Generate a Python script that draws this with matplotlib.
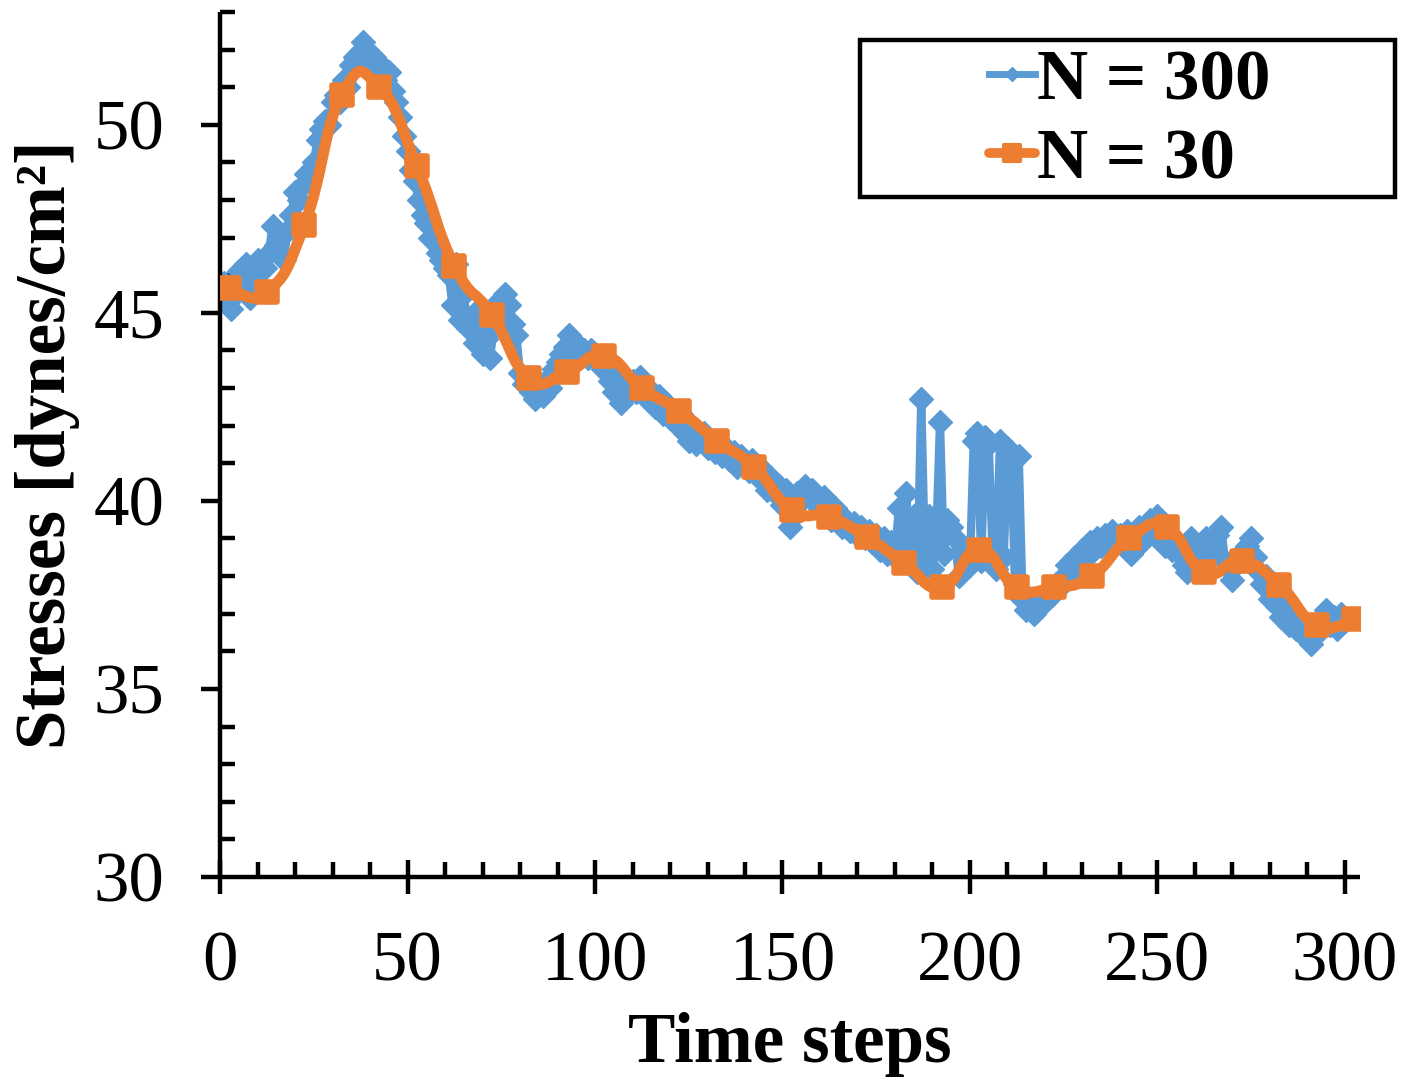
import matplotlib.pyplot as plt
from matplotlib.path import Path
from matplotlib.patches import PathPatch, Rectangle
from matplotlib.lines import Line2D
from matplotlib.markers import MarkerStyle
import numpy as np

plt.rcParams['font.family'] = ['Liberation Serif', 'DejaVu Serif']

# N = 300 series (one value per time step)
steps_300 = np.arange(1, 301)
stress_300 = [
    45.8, 45.3, 45.1, 45.6, 46.1, 45.7, 46.3, 45.4, 46.0, 46.4,
    45.6, 46.2, 46.6, 47.3, 46.8, 47.0, 46.4, 47.2, 47.6, 48.2,
    48.0, 48.4, 48.7, 48.5, 49.0, 49.6, 49.9, 50.1, 50.0, 50.6,
    50.8, 50.6, 51.2, 51.0, 51.6, 51.8, 51.9, 52.2, 52.0, 51.6,
    51.8, 51.4, 51.6, 51.2, 51.4, 50.9, 50.6, 50.2, 49.7, 49.3,
    48.8, 48.5, 48.0, 47.6, 47.4, 47.0, 46.9, 46.6, 46.4, 46.2,
    46.0, 45.2, 46.3, 44.8, 45.5, 44.6, 44.9, 44.2, 45.1, 43.9,
    44.3, 43.8, 44.6, 45.3, 44.9, 45.5, 45.2, 44.7, 44.4, 43.4,
    43.1, 43.3, 42.9, 42.7, 43.0, 42.8, 43.2, 43.0, 43.5, 43.7,
    43.9, 44.1, 44.4, 44.2, 43.9, 44.1, 44.0, 43.8, 44.0, 43.9,
    43.7, 43.5, 43.8, 43.2, 42.9, 43.3, 42.6, 42.8, 43.1, 43.2,
    42.9, 43.3, 42.8, 43.0, 42.7, 42.5, 42.8, 42.3, 42.6, 42.2,
    42.4, 42.0, 42.3, 41.8, 41.6, 41.9, 41.5, 41.7, 41.8, 41.4,
    41.6, 41.3, 41.5, 41.2, 41.4, 41.1, 41.3, 40.9, 41.2, 41.0,
    40.8, 41.1, 40.7, 40.9, 40.5, 40.3, 40.6, 40.2, 40.4, 39.9,
    40.3, 39.3, 39.6, 40.2, 40.0, 40.4, 40.1, 40.3, 40.0, 39.8,
    40.1, 39.7, 39.5, 39.8, 39.6, 39.3, 39.5, 39.2, 39.4, 39.1,
    39.3, 39.0, 39.2, 38.9, 39.1, 38.7, 39.0, 38.6, 38.9, 38.5,
    39.8, 38.4, 40.2, 38.6, 39.6, 38.1, 42.7, 38.4, 39.6, 38.2,
    39.0, 42.1, 38.6, 39.5, 39.3, 39.0, 38.0, 38.7, 38.5, 38.3,
    41.6, 41.8, 38.4, 41.7, 41.5, 38.7, 38.2, 41.6, 38.5, 41.4,
    41.3, 37.8, 41.2, 37.4, 37.1, 37.3, 37.0, 37.2, 37.4, 37.3,
    37.6, 37.5, 37.8, 37.7, 38.0, 38.3, 38.1, 38.5, 38.3, 38.7,
    38.5, 38.9, 38.7, 39.0, 38.8, 39.1, 38.9, 39.2, 39.0, 39.1,
    38.8, 39.2, 38.6, 39.0, 39.3, 38.9, 39.2, 39.5, 39.1, 39.6,
    39.2, 38.8, 39.1, 38.7, 38.9, 38.6, 38.3, 38.1, 39.0, 38.6,
    38.2, 38.7, 39.0, 38.5, 38.8, 39.1, 39.3, 38.4, 38.2, 37.9,
    38.3, 38.6, 38.4, 38.8, 39.0, 38.5, 38.1, 37.8, 38.0, 37.4,
    37.7, 37.2, 36.9, 37.3, 36.7, 37.0, 36.6, 36.8, 36.4, 36.7,
    36.2, 36.5, 36.8, 36.6, 37.1, 36.7, 36.9, 36.6, 37.0, 36.8,
]

# N = 30 series
steps_30 = np.arange(2.5, 303, 10)
stress_30 = [
    45.67, 45.56, 47.34, 50.8, 51.0, 48.9, 46.25, 44.95, 43.27, 43.43,
    43.86, 43.0, 42.4, 41.6, 40.9, 39.76, 39.57, 39.04, 38.35, 37.7,
    38.7, 37.7, 37.7, 38.0, 39.0, 39.3, 38.1, 38.4, 37.77, 36.7,
    36.85,
]

blue = '#5B9BD5'
orange = '#ED7D31'

fig = plt.figure(figsize=(14.15, 10.78), dpi=100)
ax = fig.add_axes([0.1555, 0.1865, 0.8056, 0.8024])

# N = 300: straight line with diamonds
ax.plot(steps_300, stress_300, color=blue, lw=6, marker='D', ms=12,
        mec=blue, solid_joinstyle='round', zorder=2)

# N = 30: smoothed line (bezier through the points) + rounded squares
pts = np.column_stack([steps_30, stress_30])
ext = np.vstack([pts[0], pts, pts[-1]])
verts = [tuple(pts[0])]
codes = [Path.MOVETO]
for i in range(1, len(ext) - 2):
    p0, p1, p2, p3 = ext[i - 1], ext[i], ext[i + 1], ext[i + 2]
    c1 = p1 + (p2 - p0) / 4
    c2 = p2 - (p3 - p1) / 4
    verts += [tuple(c1), tuple(c2), tuple(p2)]
    codes += [Path.CURVE4] * 3
ax.add_patch(PathPatch(Path(verts, codes), facecolor='none', edgecolor=orange,
                       lw=8, capstyle='round', joinstyle='round', zorder=3))
sq = MarkerStyle('s', joinstyle='round')
ax.plot(steps_30, stress_30, ls='none', marker=sq, ms=14, color=orange,
        mec=orange, mew=4, zorder=4)

ax.set_xlim(0, 304)
ax.set_ylim(30, 53)
ax.set_xticks([0, 50, 100, 150, 200, 250, 300])
ax.set_xticks(np.arange(0, 301, 10), minor=True)
ax.set_yticks([30, 35, 40, 45, 50])
ax.set_yticks(np.arange(30, 54, 1), minor=True)

for s in ['top', 'right']:
    ax.spines[s].set_visible(False)
for s in ['left', 'bottom']:
    ax.spines[s].set_linewidth(3.2)
    ax.spines[s].set_capstyle('butt')

ax.tick_params(axis='x', which='major', direction='inout', length=25, width=3.2,
               labelsize=51, pad=26)
ax.tick_params(axis='x', which='minor', direction='in', length=11, width=3.2)
ax.tick_params(axis='y', which='major', direction='out', length=14, width=3.2,
               labelsize=51, pad=26)
ax.tick_params(axis='y', which='minor', direction='in', length=11, width=3.2)

ax.set_xlabel('Time steps', fontsize=51, fontweight='bold', labelpad=12)
ax.set_ylabel('Stresses [dynes/cm²]', fontsize=51, fontweight='bold', labelpad=10)

# legend box
fig.patches.append(Rectangle((860 / 1415, 1 - 197 / 1078), 535 / 1415, 157 / 1078,
                             transform=fig.transFigure, fill=False,
                             edgecolor='black', lw=3.2, zorder=5))
h300 = Line2D([], [], color=blue, lw=5, marker='D', ms=7)
h30 = Line2D([], [], color=orange, lw=7, marker=sq, ms=11, mew=3,
             solid_capstyle='round')
leg = fig.legend([h300, h30], ['N = 300', 'N = 30'], loc='upper left',
                 bbox_to_anchor=(982 / 1415, 1 - 42 / 1078),
                 bbox_transform=fig.transFigure, frameon=False,
                 prop={'size': 51, 'weight': 'bold'}, handlelength=0.65,
                 handletextpad=0.02, labelspacing=0.2, borderpad=0.1,
                 borderaxespad=0)

fig.savefig('out.png', dpi=100)
